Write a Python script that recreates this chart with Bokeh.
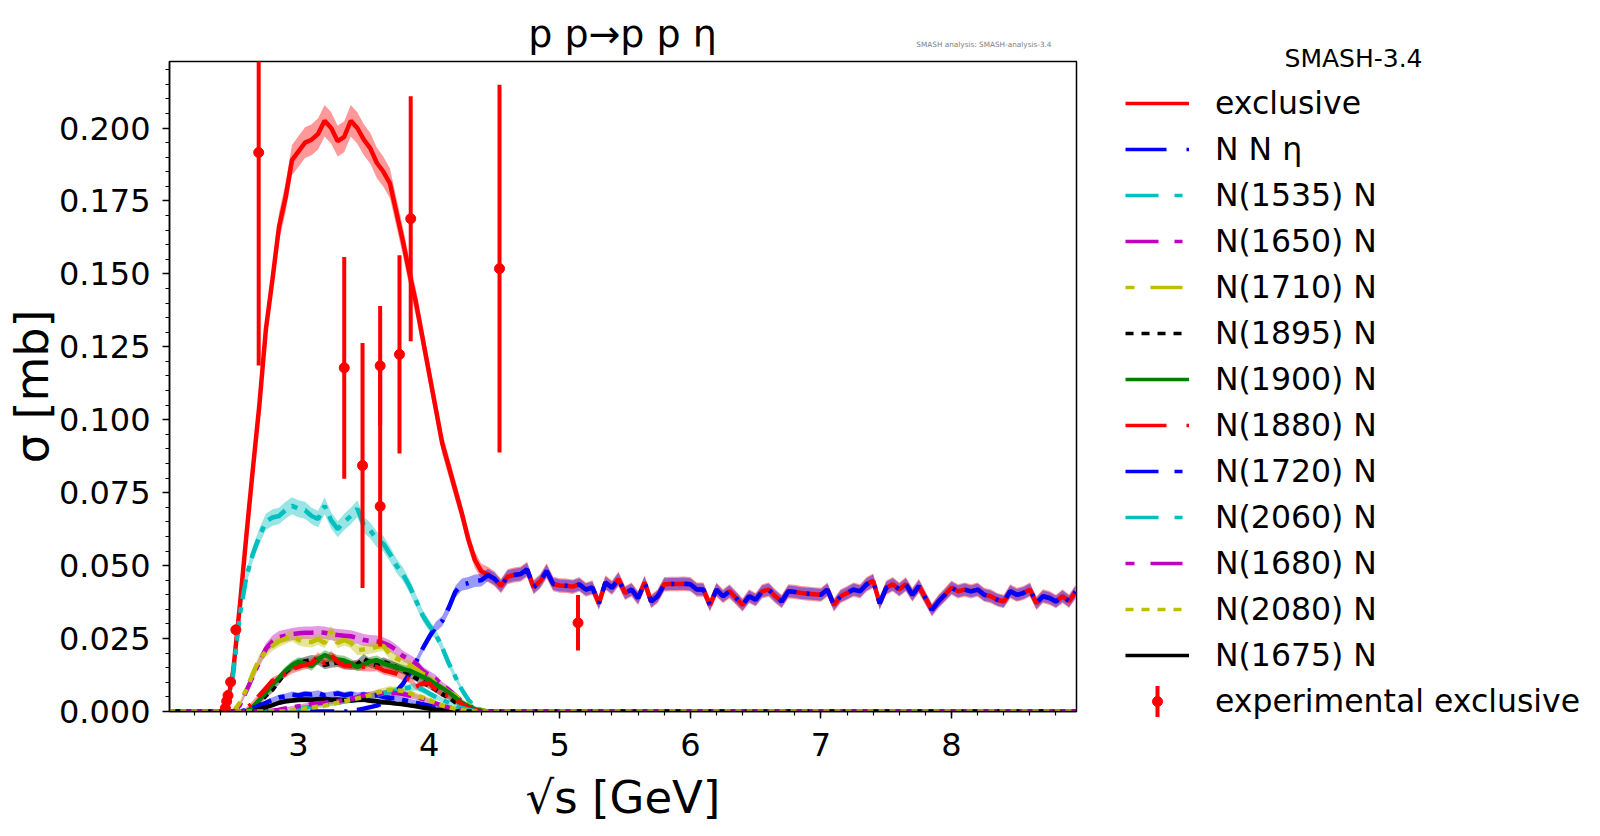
import numpy as np
from bokeh.plotting import figure
from bokeh.models import (Range1d, FixedTicker, PrintfTickFormatter,
                          Legend, LegendItem)
from bokeh.layouts import row, column
from bokeh.core.properties import value
from bokeh.embed import file_html
from bokeh.resources import INLINE

# ---------------- data ----------------
# sqrt(s) grid of the full curves [GeV]
sqrt_s_full = [2.01,
    2.40, 2.45, 2.50, 2.55, 2.60, 2.65, 2.70, 2.75, 2.80, 2.85,
    2.90, 2.95, 3.00, 3.05, 3.10, 3.15, 3.20, 3.25, 3.30, 3.35,
    3.40, 3.45, 3.50, 3.55, 3.60, 3.65, 3.70, 3.75, 3.80, 3.85,
    3.90, 3.95, 4.00, 4.05, 4.10, 4.15, 4.20, 4.25, 4.30, 4.35,
    4.40, 4.45, 4.50, 4.55, 4.60, 4.65, 4.70, 4.75, 4.80, 4.85,
    4.90, 4.95, 5.00, 5.05, 5.10, 5.15, 5.20, 5.25, 5.30, 5.35,
    5.40, 5.45, 5.50, 5.55, 5.60, 5.65, 5.70, 5.75, 5.80, 5.85,
    5.90, 5.95, 6.00, 6.05, 6.10, 6.15, 6.20, 6.25, 6.30, 6.35,
    6.40, 6.45, 6.50, 6.55, 6.60, 6.65, 6.70, 6.75, 6.80, 6.85,
    6.90, 6.95, 7.00, 7.05, 7.10, 7.15, 7.20, 7.25, 7.30, 7.35,
    7.40, 7.45, 7.50, 7.55, 7.60, 7.65, 7.70, 7.75, 7.80, 7.85,
    7.90, 7.95, 8.00, 8.05, 8.10, 8.15, 8.20, 8.25, 8.30, 8.35,
    8.40, 8.45, 8.50, 8.55, 8.60, 8.65, 8.70, 8.75, 8.80, 8.85,
    8.90, 8.95]

# N N eta (non-resonant) [mb] on sqrt_s_full
sigma_NNeta = [0.0,
    0.0, 0.0, 0.0, 0.0, 0.0, 0.0, 0.0, 0.0, 0.0, 0.0,
    0.0, 0.0, 0.0, 0.0, 0.0, 0.0, 0.0, 0.0, 0.0, 0.0,
    0.0, 0.0005, 0.001, 0.0015, 0.002, 0.003, 0.0045, 0.007, 0.0095, 0.013,
    0.017, 0.0215, 0.0255, 0.029, 0.031, 0.0355, 0.041, 0.0435, 0.044, 0.0448,
    0.045, 0.0468, 0.0455, 0.043, 0.0462, 0.0468, 0.0471, 0.0487, 0.0426, 0.0446,
    0.0482, 0.0437, 0.0432, 0.0431, 0.0428, 0.0436, 0.0418, 0.0425, 0.0371, 0.0442,
    0.0424, 0.0454, 0.0406, 0.0418, 0.0389, 0.0442, 0.0377, 0.0395, 0.0436, 0.0437,
    0.0437, 0.0438, 0.0436, 0.0418, 0.0418, 0.0365, 0.0418, 0.0395, 0.0412, 0.0389,
    0.0365, 0.0395, 0.0383, 0.0412, 0.0418, 0.0395, 0.0377, 0.0412, 0.0410, 0.0406,
    0.0404, 0.0402, 0.0400, 0.0418, 0.0365, 0.0395, 0.0406, 0.0418, 0.0412, 0.0436,
    0.0448, 0.0371, 0.0424, 0.0436, 0.0418, 0.0436, 0.0400, 0.0430, 0.0389, 0.0348,
    0.0377, 0.0400, 0.0424, 0.0412, 0.0418, 0.0412, 0.0418, 0.0400, 0.0395, 0.0383,
    0.0377, 0.0412, 0.0400, 0.0406, 0.0418, 0.0371, 0.0395, 0.0389, 0.0377, 0.0395,
    0.0378, 0.0410]

# sqrt(s) grid of the resonance region [GeV] (2.40 ... 4.50)
sqrt_s_res = [
    2.40, 2.45, 2.50, 2.55, 2.60, 2.65, 2.70, 2.75, 2.80, 2.85,
    2.90, 2.95, 3.00, 3.05, 3.10, 3.15, 3.20, 3.25, 3.30, 3.35,
    3.40, 3.45, 3.50, 3.55, 3.60, 3.65, 3.70, 3.75, 3.80, 3.85,
    3.90, 3.95, 4.00, 4.05, 4.10, 4.15, 4.20, 4.25, 4.30, 4.35,
    4.40, 4.45, 4.50]
sqrt_s_low_edge = 2.01
sqrt_s_high_edge = 8.95

# exclusive total [mb] in the resonance region (above 4.50 it equals N N eta)
sigma_exclusive_res = [
    0.0, 0.0012, 0.014, 0.036, 0.060, 0.083, 0.105, 0.131, 0.148, 0.166,
    0.176, 0.189, 0.192, 0.195, 0.196, 0.198, 0.2025, 0.200, 0.1955, 0.197,
    0.2025, 0.200, 0.196, 0.193, 0.188, 0.185, 0.181, 0.171, 0.161, 0.150,
    0.140, 0.128, 0.116, 0.104, 0.092, 0.084, 0.076, 0.068, 0.059, 0.052,
    0.048, 0.047, 0.0455]

sigma_N1535 = [
    0.0, 0.0015, 0.013, 0.033, 0.046, 0.054, 0.060, 0.065, 0.0665, 0.067,
    0.069, 0.0705, 0.0695, 0.069, 0.067, 0.066, 0.0705, 0.0655, 0.0625, 0.065,
    0.067, 0.0695, 0.064, 0.062, 0.059, 0.0575, 0.054, 0.050, 0.047, 0.043,
    0.038, 0.033, 0.0295, 0.0265, 0.022, 0.0165, 0.012, 0.0075, 0.004, 0.0015,
    0.0005, 0.0, 0.0]
sigma_N1650 = [
    0.0, 0.0, 0.0, 0.002, 0.007, 0.012, 0.017, 0.0215, 0.024, 0.0255,
    0.026, 0.0265, 0.0268, 0.027, 0.027, 0.0272, 0.027, 0.0265, 0.0262, 0.026,
    0.0258, 0.0252, 0.0245, 0.0242, 0.024, 0.0235, 0.0225, 0.021, 0.019, 0.0178,
    0.0165, 0.014, 0.0125, 0.0112, 0.009, 0.0075, 0.0055, 0.0035, 0.002, 0.001,
    0.0003, 0.0, 0.0]
sigma_N1710 = [
    0.0, 0.0, 0.0, 0.003, 0.0075, 0.013, 0.018, 0.0205, 0.0225, 0.024,
    0.025, 0.026, 0.0245, 0.024, 0.0238, 0.0248, 0.0235, 0.0275, 0.0235, 0.0245,
    0.0235, 0.021, 0.0213, 0.0216, 0.0222, 0.0225, 0.0195, 0.0182, 0.0172, 0.016,
    0.0145, 0.013, 0.0117, 0.0098, 0.0082, 0.0068, 0.0055, 0.0038, 0.0022, 0.0012,
    0.0005, 0.0, 0.0]
sigma_N1895 = [
    0.0, 0.0, 0.0, 0.0, 0.0, 0.001, 0.003, 0.0055, 0.0075, 0.0105,
    0.0135, 0.0155, 0.0165, 0.0172, 0.0178, 0.0175, 0.016, 0.0165, 0.0168, 0.0162,
    0.0158, 0.0162, 0.0181, 0.0165, 0.0158, 0.017, 0.0162, 0.0152, 0.0142, 0.0128,
    0.0115, 0.0102, 0.0088, 0.0075, 0.006, 0.0048, 0.0032, 0.0022, 0.0012, 0.0005,
    0.0, 0.0, 0.0]
sigma_N1900 = [
    0.0, 0.0, 0.0, 0.0, 0.0, 0.0015, 0.004, 0.0065, 0.0092, 0.0115,
    0.014, 0.0158, 0.017, 0.0165, 0.0155, 0.0178, 0.0193, 0.0185, 0.0178, 0.0175,
    0.0165, 0.0153, 0.016, 0.0172, 0.0176, 0.0165, 0.0158, 0.0152, 0.0145, 0.014,
    0.013, 0.0119, 0.0108, 0.0094, 0.008, 0.0066, 0.0048, 0.003, 0.0018, 0.0008,
    0.0003, 0.0, 0.0]
sigma_N1880 = [
    0.0, 0.0, 0.0, 0.0, 0.001, 0.003, 0.0055, 0.008, 0.0105, 0.0115,
    0.013, 0.0145, 0.0153, 0.016, 0.0165, 0.0187, 0.0165, 0.0192, 0.017, 0.0158,
    0.0158, 0.0156, 0.0153, 0.0152, 0.0153, 0.0141, 0.0136, 0.013, 0.012, 0.011,
    0.0085, 0.0095, 0.0098, 0.0075, 0.006, 0.0055, 0.004, 0.0025, 0.0012, 0.0005,
    0.0, 0.0, 0.0]
sigma_N1720 = [
    0.0, 0.0, 0.0, 0.0, 0.0005, 0.0012, 0.002, 0.003, 0.004, 0.0048,
    0.0052, 0.0058, 0.0055, 0.006, 0.0058, 0.0062, 0.0055, 0.0058, 0.0062, 0.0056,
    0.006, 0.0055, 0.0058, 0.0052, 0.0056, 0.005, 0.0046, 0.0045, 0.004, 0.0035,
    0.003, 0.0025, 0.002, 0.0015, 0.001, 0.0006, 0.0003, 0.0, 0.0, 0.0,
    0.0, 0.0, 0.0]
sigma_N2060 = [
    0.0, 0.0, 0.0, 0.0, 0.0, 0.0, 0.0, 0.0, 0.0, 0.0,
    0.0003, 0.0006, 0.001, 0.0013, 0.0016, 0.002, 0.0023, 0.0027, 0.003, 0.0035,
    0.0038, 0.0042, 0.0048, 0.0052, 0.0058, 0.0062, 0.0068, 0.0072, 0.0078, 0.0082,
    0.0085, 0.0075, 0.0062, 0.005, 0.004, 0.003, 0.002, 0.0012, 0.0006, 0.0002,
    0.0, 0.0, 0.0]
sigma_N1680 = [
    0.0, 0.0, 0.0, 0.0, 0.0, 0.0, 0.0, 0.0, 0.0003, 0.0006,
    0.001, 0.0014, 0.0018, 0.0022, 0.0025, 0.0028, 0.003, 0.0033, 0.0036, 0.0038,
    0.0042, 0.0048, 0.0055, 0.0058, 0.006, 0.0062, 0.0065, 0.0063, 0.006, 0.0055,
    0.005, 0.0043, 0.0035, 0.0028, 0.002, 0.0014, 0.0009, 0.0005, 0.0002, 0.0,
    0.0, 0.0, 0.0]
sigma_N2080 = [
    0.0, 0.0, 0.0, 0.0, 0.0, 0.0, 0.0, 0.0, 0.0, 0.0,
    0.0, 0.0003, 0.0006, 0.001, 0.0013, 0.0017, 0.002, 0.0025, 0.003, 0.0035,
    0.004, 0.0045, 0.005, 0.0057, 0.0065, 0.007, 0.0075, 0.0073, 0.007, 0.0063,
    0.0055, 0.0048, 0.004, 0.003, 0.0021, 0.0014, 0.0009, 0.0005, 0.0002, 0.0,
    0.0, 0.0, 0.0]
sigma_N1675 = [
    0.0, 0.0, 0.0, 0.0, 0.0, 0.0, 0.0008, 0.0015, 0.0022, 0.003,
    0.0035, 0.0038, 0.004, 0.0041, 0.004, 0.0042, 0.0043, 0.004, 0.0041, 0.0039,
    0.0038, 0.004, 0.0041, 0.0037, 0.0035, 0.0032, 0.003, 0.0027, 0.0025, 0.0021,
    0.0018, 0.0014, 0.001, 0.0007, 0.0005, 0.0003, 0.0001, 0.0, 0.0, 0.0,
    0.0, 0.0, 0.0]

# statistical uncertainty factor per curve (band half width = k*sqrt(sigma))
band_k = [0.012, 0.010, 0.011, 0.013, 0.012, 0.012, 0.012, 0.012,
          0.014, 0.014, 0.014, 0.014, 0.014]

# experimental exclusive data
exp_sqrt_s = [2.44, 2.45, 2.46, 2.48, 2.52, 2.695, 3.35, 3.49, 3.625, 3.625,
              3.773, 3.859, 4.539, 5.14]
exp_sigma = [0.0012, 0.0035, 0.0055, 0.0101, 0.028, 0.1916, 0.1178, 0.0843,
             0.1185, 0.0703, 0.1224, 0.1689, 0.1518, 0.0304]
exp_err = [0.0003, 0.0005, 0.0008, 0.001, 0.0015, 0.073, 0.038, 0.042,
           0.0205, 0.048, 0.034, 0.042, 0.063, 0.0095]

labels = ["exclusive", "N N η", "N(1535) N", "N(1650) N", "N(1710) N",
          "N(1895) N", "N(1900) N", "N(1880) N", "N(1720) N", "N(2060) N",
          "N(1680) N", "N(2080) N", "N(1675) N"]
exp_label = "experimental exclusive"

# ---------------- assemble curves ----------------
x_res = [sqrt_s_low_edge] + sqrt_s_res + [sqrt_s_high_edge]
def res_curve(vals):
    return [0.0] + list(vals) + [0.0]

sigma_exclusive = [0.0] + sigma_exclusive_res + sigma_NNeta[1 + len(sqrt_s_res):]
curves = [
    (sqrt_s_full, sigma_exclusive),
    (sqrt_s_full, sigma_NNeta),
    (x_res, res_curve(sigma_N1535)),
    (x_res, res_curve(sigma_N1650)),
    (x_res, res_curve(sigma_N1710)),
    (x_res, res_curve(sigma_N1895)),
    (x_res, res_curve(sigma_N1900)),
    (x_res, res_curve(sigma_N1880)),
    (x_res, res_curve(sigma_N1720)),
    (x_res, res_curve(sigma_N2060)),
    (x_res, res_curve(sigma_N1680)),
    (x_res, res_curve(sigma_N2080)),
    (x_res, res_curve(sigma_N1675)),
]

# ---------------- styles ----------------
colors = ["#ff0000", "#0000ff", "#00bfbf", "#bf00bf", "#bfbf00", "#000000",
          "#008000", "#ff0000", "#0000ff", "#00bfbf", "#bf00bf", "#bfbf00",
          "#000000"]
legend_dash = ["solid", "41 20 3 20", "33 16 8 16", "33 16 8 16", "9 16 32 16",
               "8 8", "solid", "41 20 3 20", "33 16 8 16", "33 16 8 16",
               "9 16 32 16", "8 8", "solid"]
plot_dash = ["solid", "24 10 3 10", "20 8 6 8", "20 8 6 8", "6 8 20 8",
             "6 5", "solid", "24 10 3 10", "20 8 6 8", "20 8 6 8",
             "6 8 20 8", "6 5", "solid"]
draw_order = [0, 1, 2, 3, 4, 5, 6, 7, 8, 9, 12, 10, 11]

FONT = "DejaVu Sans"
X0, X1 = 2.012, 8.957
Y0, Y1 = 0.0, 0.2228
TOP_H = 56            # height of the title strip
LEFT_W = 1090         # width of title strip / main plot
PAGE_W, PAGE_H = 1596, 832
FW, FH = 907, 650
BL = 169              # page x of the plot frame's left edge
BT = 61 - TOP_H
MAIN_H = PAGE_H - TOP_H

# ---------------- title strip (x, y in page pixels) ----------------
t = figure(width=LEFT_W, height=TOP_H,
           x_range=Range1d(BL, BL + FW), y_range=Range1d(TOP_H, 0),
           output_backend="svg", toolbar_location=None, title=None,
           min_border_left=BL, min_border_right=LEFT_W - BL - FW,
           min_border_top=0, min_border_bottom=0,
           x_axis_type=None, y_axis_type=None, outline_line_color=None)
t.grid.visible = False
t.text(x=[622], y=[33], text=["p p→p p η"], text_font=value(FONT),
       text_font_size=value("38px"), text_align="center",
       text_baseline="middle", text_color="black")
t.text(x=[1051], y=[44], text=["SMASH analysis: SMASH-analysis-3.4"],
       text_font=value(FONT), text_font_size=value("7.3px"), text_align="right",
       text_baseline="middle", text_color="#808080")

# ---------------- main plot ----------------
p = figure(frame_width=FW, frame_height=FH,
           x_range=Range1d(X0, X1), y_range=Range1d(Y0, Y1),
           output_backend="svg", toolbar_location=None, title=None,
           min_border_left=BL, min_border_top=BT,
           min_border_right=LEFT_W - BL - FW,
           min_border_bottom=MAIN_H - BT - FH)
p.grid.visible = False
p.outline_line_color = "black"
p.outline_line_width = 1.5

for i in draw_order:
    xs, ys = curves[i]
    ya = np.array(ys)
    hw = band_k[i] * np.sqrt(ya)
    p.varea(x=xs, y1=ya - hw, y2=ya + hw, fill_color=colors[i], fill_alpha=0.4)

for i in draw_order:
    xs, ys = curves[i]
    p.line(xs, ys, line_color=colors[i], line_width=4.5, line_dash=plot_dash[i])

exp_lo = [y - e for y, e in zip(exp_sigma, exp_err)]
exp_hi = [y + e for y, e in zip(exp_sigma, exp_err)]
p.segment(x0=exp_sqrt_s, y0=exp_lo, x1=exp_sqrt_s, y1=exp_hi,
          line_color="#ff0000", line_width=4)
p.scatter(x=exp_sqrt_s, y=exp_sigma, size=10, fill_color="#ff0000",
          line_color="#ff0000")

p.xaxis.ticker = FixedTicker(ticks=[3, 4, 5, 6, 7, 8],
                             minor_ticks=[round(2.2 + 0.2 * k, 1) for k in range(34)])
p.yaxis.ticker = FixedTicker(ticks=[round(0.025 * k, 3) for k in range(9)],
                             minor_ticks=[round(0.005 * k, 3) for k in range(45)])
p.xaxis.formatter = PrintfTickFormatter(format="%d")
p.yaxis.formatter = PrintfTickFormatter(format="%.3f")
for ax in (p.xaxis[0], p.yaxis[0]):
    ax.major_tick_out = 7
    ax.major_tick_in = 0
    ax.minor_tick_out = 4
    ax.minor_tick_in = 0
    ax.major_tick_line_width = 1.5
    ax.minor_tick_line_width = 1.2
    ax.axis_line_width = 1.5
    ax.major_label_text_font = FONT
    ax.major_label_text_font_size = "32px"
    ax.major_label_text_color = "black"
    ax.axis_label_text_font = FONT
    ax.axis_label_text_font_style = "normal"
    ax.axis_label_text_color = "black"
p.yaxis.major_label_standoff = 12
p.xaxis.major_label_standoff = 14
p.yaxis.axis_label = "σ [mb]"
p.yaxis.axis_label_text_font_size = "46px"
p.yaxis.axis_label_standoff = -3
p.xaxis.axis_label = "√s [GeV]"
p.xaxis.axis_label_text_font_size = "45px"
p.xaxis.axis_label_standoff = 12

# ---------------- legend panel (x, y in page pixels) ----------------
LW = PAGE_W - LEFT_W
LG_X0 = LEFT_W
lg = figure(width=LW, height=PAGE_H, x_range=Range1d(LG_X0, LG_X0 + LW),
            y_range=Range1d(PAGE_H, 0), output_backend="svg",
            toolbar_location=None, min_border=0, title=None,
            x_axis_type=None, y_axis_type=None, outline_line_color=None)
lg.grid.visible = False

items = []
for i in range(len(labels)):
    r = lg.line([-10, -9], [-1, -1], line_color=colors[i], line_width=3.4,
                line_dash=legend_dash[i])
    items.append(LegendItem(label=labels[i], renderers=[r]))
r_exp = lg.scatter([-10], [-1], size=1, alpha=0)
items.append(LegendItem(label=exp_label, renderers=[r_exp]))

ROW0, PITCH, GLYPH_X0 = 103, 46, 1125
legend_top = ROW0 - 20
legend_h = 14 * 40 + 13 * 6
legend = Legend(items=items,
                location=(GLYPH_X0 - LG_X0, PAGE_H - legend_top - legend_h),
                orientation="vertical",
                glyph_width=64, glyph_height=40, label_height=40, spacing=6,
                label_standoff=26, padding=0, margin=0,
                border_line_alpha=0, background_fill_alpha=0,
                label_text_font=FONT, label_text_font_size="31.5px",
                label_text_color="black")
lg.add_layout(legend, "center")

# experimental legend glyph: vertical error bar with dot
ex_x = GLYPH_X0 + 32
ex_y = ROW0 + 13 * PITCH
lg.segment(x0=[ex_x], y0=[ex_y - 15.5], x1=[ex_x], y1=[ex_y + 15.5],
           line_color="#ff0000", line_width=4)
lg.scatter(x=[ex_x], y=[ex_y], size=10, fill_color="#ff0000", line_color="#ff0000")

lg.text(x=[1353], y=[58], text=["SMASH-3.4"], text_font=value(FONT),
        text_font_size=value("25px"), text_align="center",
        text_baseline="middle", text_color="black")

layout = row(column(t, p), lg)
open("out.html", "w").write(file_html(layout, INLINE))
